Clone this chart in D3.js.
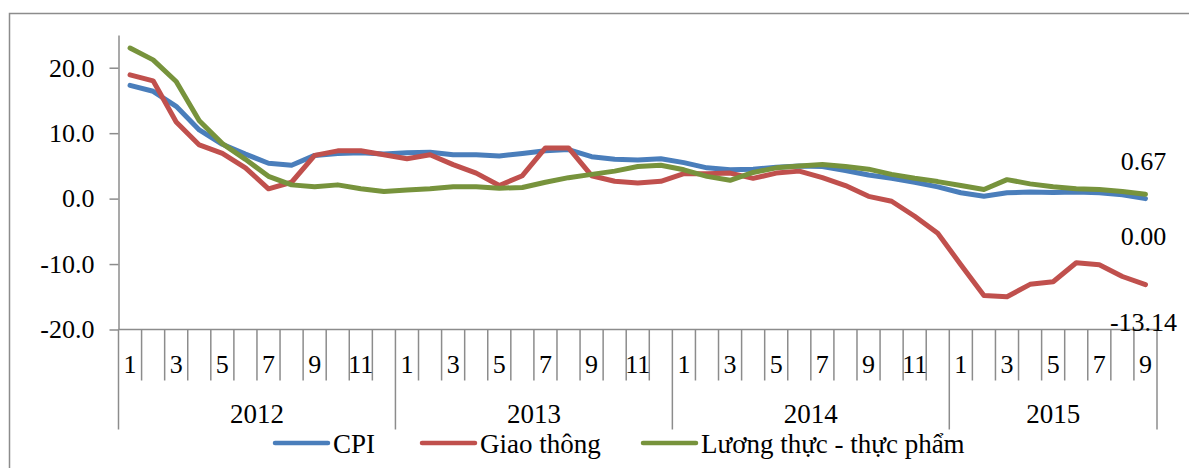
<!DOCTYPE html>
<html>
<head>
<meta charset="utf-8">
<script src="https://cdn.jsdelivr.net/npm/d3@7"></script>
<style>
  html, body { margin: 0; padding: 0; background: #fff; }
  svg { display: block; }
  svg text { font-family: "Liberation Serif", "Times New Roman", serif !important; fill: #000; }
</style>
</head>
<body>
<svg id="chart" width="1189" height="468"></svg>
<script>
// Years and months shown on the two-level category axis
const years = ["2012", "2013", "2014", "2015"];
const monthsPerYear = [12, 12, 12, 9];

// Year-on-year change (%), monthly
const cpi = [
  17.3, 16.4, 14.1, 10.5, 8.3, 6.8, 5.4, 5.1, 6.6, 6.9, 7.0, 6.8,
  7.0, 7.1, 6.7, 6.7, 6.5, 6.9, 7.3, 7.5, 6.4, 6.0, 5.9, 6.1,
  5.5, 4.7, 4.4, 4.5, 4.8, 5.0, 4.9, 4.3, 3.6, 3.1, 2.5, 1.8,
  0.9, 0.35, 0.9, 1.0, 0.95, 1.0, 0.9, 0.6, 0.00
];
const giaoThong = [
  18.9, 18.0, 11.7, 8.2, 6.9, 4.7, 1.5, 2.5, 6.6, 7.3, 7.3, 6.7,
  6.1, 6.7, 5.2, 3.9, 2.0, 3.5, 7.75, 7.75, 3.5, 2.65, 2.4, 2.65,
  3.8, 3.8, 3.9, 3.1, 3.9, 4.2, 3.2, 2.0, 0.35, -0.4, -2.7, -5.3,
  -10.1, -14.8, -15.0, -13.1, -12.7, -9.8, -10.1, -11.9, -13.14
];
const luongThuc = [
  23.0, 21.2, 17.9, 11.9, 8.4, 6.0, 3.4, 2.1, 1.8, 2.1, 1.5, 1.1,
  1.3, 1.5, 1.8, 1.8, 1.6, 1.7, 2.5, 3.2, 3.7, 4.2, 4.9, 5.1,
  4.4, 3.4, 2.8, 4.0, 4.7, 5.0, 5.2, 4.9, 4.5, 3.7, 3.1, 2.6,
  2.0, 1.4, 2.9, 2.25, 1.8, 1.5, 1.4, 1.1, 0.67
];

const seriesNames = ["CPI", "Giao thông", "Lương thực - thực phẩm"];
const yTicks = [-20, -10, 0, 10, 20];

// Styling
const colors = ["#4a7ebb", "#c0504d", "#77933c"];
const labelSide = ["below", "below", "above"];
const axisColor = "#8c8c8c";

const svg = d3.select("#chart");
const W = 1189, H = 468;
const plot = { left: 118.5, right: 1157, top: 35, bottom: 329.5 };

// outer chart frame
svg.append("rect")
  .attr("x", 9.5).attr("y", 13.5)
  .attr("width", W + 10).attr("height", H + 10)
  .attr("fill", "#fff")
  .attr("stroke", axisColor).attr("stroke-width", 1.5);

// categories: one per month
const cats = [];
monthsPerYear.forEach((n, yi) => {
  for (let m = 1; m <= n; m++) cats.push({ year: years[yi], yi, month: m });
});
const idx = cats.map((d, i) => i);

const x = d3.scaleBand().domain(idx).range([plot.left, plot.right]).padding(0);
const y = d3.scaleLinear().domain([-20, 25]).range([plot.bottom, plot.top]);

// y axis
const yAxis = d3.axisLeft(y)
  .tickValues(yTicks)
  .tickFormat(d => d.toFixed(1))
  .tickSize(9).tickSizeOuter(0).tickPadding(15);
const gy = svg.append("g").attr("transform", `translate(${plot.left},0)`).call(yAxis);
gy.select(".domain").attr("stroke", axisColor).attr("stroke-width", 1.5);
gy.selectAll(".tick line").attr("stroke", axisColor).attr("stroke-width", 1.5);
gy.selectAll(".tick text").attr("font-size", 26);

// x axis baseline
const gx = svg.append("g");
gx.append("line")
  .attr("x1", plot.left).attr("x2", plot.right)
  .attr("y1", y(-20)).attr("y2", y(-20))
  .attr("stroke", axisColor).attr("stroke-width", 1.5);

// category boundaries: month ticks, longer at year boundaries
const bounds = idx.map(i => ({ x: x(i), yearStart: cats[i].month === 1 }));
bounds.push({ x: x(idx[idx.length - 1]) + x.bandwidth(), yearStart: true });
gx.selectAll("line.sep").data(bounds).join("line")
  .attr("class", "sep")
  .attr("x1", d => d.x).attr("x2", d => d.x)
  .attr("y1", y(-20))
  .attr("y2", d => y(-20) + (d.yearStart ? 100 : 51))
  .attr("stroke", axisColor).attr("stroke-width", 1.5);

// month labels (odd months)
gx.selectAll("text.month").data(cats.filter(d => d.month % 2 === 1)).join("text")
  .attr("class", "month")
  .attr("x", d => x(cats.indexOf(d)) + x.bandwidth() / 2)
  .attr("y", y(-20) + 43)
  .attr("text-anchor", "middle")
  .attr("font-size", 26)
  .text(d => d.month);

// year labels centred under each year's months
gx.selectAll("text.year").data(years).join("text")
  .attr("class", "year")
  .attr("x", (d, yi) => {
    const members = idx.filter(i => cats[i].yi === yi);
    const x0 = x(members[0]);
    const x1 = x(members[members.length - 1]) + x.bandwidth();
    return (x0 + x1) / 2;
  })
  .attr("y", y(-20) + 93)
  .attr("text-anchor", "middle")
  .attr("font-size", 27)
  .text(d => d);

// series lines
const seriesData = [cpi, giaoThong, luongThuc];
const line = d3.line()
  .x((d, i) => x(i) + x.bandwidth() / 2)
  .y(d => y(d));

svg.append("g").selectAll("path").data(seriesData).join("path")
  .attr("d", line)
  .attr("fill", "none")
  .attr("stroke", (d, i) => colors[i])
  .attr("stroke-width", 5)
  .attr("stroke-linejoin", "round")
  .attr("stroke-linecap", "round");

// value labels on the last month
svg.append("g").selectAll("text").data(seriesData).join("text")
  .attr("x", d => x(d.length - 1) + x.bandwidth() / 2 - 2)
  .attr("y", (d, i) => y(d[d.length - 1]) + (labelSide[i] === "above" ? -24 : 46))
  .attr("text-anchor", "middle")
  .attr("font-size", 26)
  .text(d => d[d.length - 1].toFixed(2));

// legend
const legendX = [275, 422, 643];
const lg = svg.append("g").selectAll("g").data(seriesNames).join("g")
  .attr("transform", (d, i) => `translate(${legendX[i]},443)`);
lg.append("line")
  .attr("x1", 0).attr("x2", 53).attr("y1", 0).attr("y2", 0)
  .attr("stroke", (d, i) => colors[i]).attr("stroke-width", 4.5)
  .attr("stroke-linecap", "round");
lg.append("text")
  .attr("x", 58).attr("y", 9.5)
  .attr("font-size", 27)
  .text(d => d);
</script>
</body>
</html>
